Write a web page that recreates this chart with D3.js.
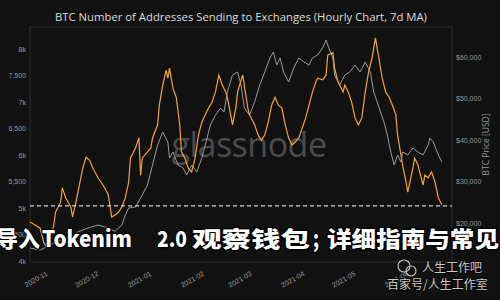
<!DOCTYPE html>
<html>
<head>
<meta charset="utf-8">
<script src="https://cdn.jsdelivr.net/npm/d3@7"></script>
<style>
  body { margin: 0; background: #111; }
  svg { display: block; font-family: 'Open Sans', sans-serif; }
  .tick text { fill: #9a9a9a; font-size: 7px; }
  .domain { display: none; }
</style>
</head>
<body>
<div id="chart"></div>
<script>
// addresses sending to exchanges, 7d MA (left axis)
var addr_dates = [
    '2020-10-24','2020-10-27','2020-10-30','2020-11-01','2020-11-02','2020-11-05','2020-11-07','2020-11-08','2020-11-11','2020-11-12',
    '2020-11-14','2020-11-17','2020-11-18','2020-11-20','2020-11-22','2020-11-24','2020-11-26','2020-11-28','2020-11-30','2020-12-03',
    '2020-12-06','2020-12-09','2020-12-11','2020-12-13','2020-12-15','2020-12-17','2020-12-19','2020-12-21','2020-12-22','2020-12-25',
    '2020-12-27','2020-12-28','2020-12-29','2021-01-01','2021-01-03','2021-01-04','2021-01-07','2021-01-08','2021-01-10','2021-01-12',
    '2021-01-13','2021-01-14','2021-01-16','2021-01-18','2021-01-20','2021-01-21','2021-01-23','2021-01-25','2021-01-27','2021-01-29',
    '2021-01-31','2021-02-02','2021-02-04','2021-02-06','2021-02-08','2021-02-10','2021-02-12','2021-02-14','2021-02-16','2021-02-17',
    '2021-02-20','2021-02-22','2021-02-23','2021-02-26','2021-03-01','2021-03-02','2021-03-05','2021-03-07','2021-03-09','2021-03-11',
    '2021-03-13','2021-03-15','2021-03-17','2021-03-19','2021-03-21','2021-03-23','2021-03-25','2021-03-27','2021-03-29','2021-03-31',
    '2021-04-02','2021-04-04','2021-04-06','2021-04-08','2021-04-10','2021-04-11','2021-04-14','2021-04-16','2021-04-17','2021-04-20',
    '2021-04-21','2021-04-23','2021-04-26','2021-04-27','2021-04-29','2021-05-01','2021-05-03','2021-05-05','2021-05-07','2021-05-09',
    '2021-05-11','2021-05-13','2021-05-15','2021-05-17','2021-05-19','2021-05-21','2021-05-23','2021-05-25','2021-05-27','2021-05-28',
    '2021-05-31','2021-06-02','2021-06-03','2021-06-06','2021-06-07','2021-06-09','2021-06-12','2021-06-13','2021-06-15','2021-06-17',
    '2021-06-19','2021-06-21','2021-06-23'
];
var addr_values = [
    4735,4680,4620,4360,4300,4430,4680,4920,5110,5380,
    5190,5020,4830,5110,5430,5750,5960,5900,5750,5570,
    5430,5250,4830,4870,4920,5020,5190,5490,5940,6130,
    6320,5620,5940,6060,6130,6320,6570,6940,7320,7600,
    7450,7640,7260,7080,6570,6060,5940,5750,5680,5940,
    6380,6620,6760,6890,7000,7190,7510,7320,7190,7080,
    6570,6890,7190,7510,6890,6760,6570,6380,6280,6380,
    6620,6940,7090,6940,6890,6570,6320,6190,6250,6320,
    6510,6700,6940,7190,7380,7450,7420,7510,7890,7930,
    7640,7380,7190,7320,7190,7000,6700,6570,6700,7190,
    7570,7830,8210,7830,7450,7190,7090,6940,6760,6380,
    5810,5490,5300,5750,5940,5810,5430,5620,5570,5680,
    5490,5190,5060
];

// BTC price in USD (right axis)
var price_dates = [
    '2020-10-24','2020-10-30','2020-11-04','2020-11-08','2020-11-17','2020-11-21','2020-11-27','2020-12-03','2020-12-09','2020-12-13',
    '2020-12-17','2020-12-19','2020-12-21','2020-12-25','2020-12-29','2021-01-01','2021-01-04','2021-01-07','2021-01-10','2021-01-13',
    '2021-01-14','2021-01-16','2021-01-19','2021-01-22','2021-01-24','2021-01-27','2021-01-30','2021-02-02','2021-02-04','2021-02-07',
    '2021-02-10','2021-02-13','2021-02-15','2021-02-17','2021-02-20','2021-02-23','2021-02-25','2021-02-27','2021-03-02','2021-03-05',
    '2021-03-08','2021-03-11','2021-03-14','2021-03-16','2021-03-18','2021-03-20','2021-03-22','2021-03-25','2021-03-28','2021-03-31',
    '2021-04-03','2021-04-06','2021-04-08','2021-04-11','2021-04-14','2021-04-16','2021-04-17','2021-04-20','2021-04-21','2021-04-24',
    '2021-04-27','2021-04-30','2021-05-03','2021-05-06','2021-05-09','2021-05-12','2021-05-14','2021-05-16','2021-05-18','2021-05-20',
    '2021-05-22','2021-05-24','2021-05-26','2021-05-28','2021-05-30','2021-05-31','2021-06-03','2021-06-06','2021-06-09','2021-06-12',
    '2021-06-15','2021-06-16','2021-06-18','2021-06-21','2021-06-23'
];
var price_values = [
    13970,13490,14450,15420,16380,17830,18790,19510,18790,18000,
    19510,21920,23610,23850,26740,29150,33970,38790,41930,39520,
    35660,37110,33970,33250,31560,33970,32290,35660,38790,43610,
    46020,47710,46750,51570,55660,56390,53250,47710,46020,49160,
    53250,56390,59760,61210,58070,59760,56390,53980,57350,59760,
    58800,58070,59760,60480,62170,64100,62890,59760,55660,53250,
    55660,56390,58070,56390,58800,56390,51570,49160,46750,44340,
    41200,37110,33970,36380,34700,37110,36380,38070,37110,36380,
    38790,40480,39520,36380,34700
];

var left_ticks = [4000, 4500, 5000, 5500, 6000, 6500, 7000, 7500, 8000];
var right_ticks = [20000, 30000, 40000, 50000, 60000];
var month_ticks = ['2020-11-01','2020-12-01','2021-01-01','2021-02-01','2021-03-01',
                   '2021-04-01','2021-05-01','2021-06-01'];
var date_range = ['2020-10-24', '2021-06-29'];
var addr_range = [3981, 8415];
var price_range = [10600, 67230];
var dashed_level = [5040];

var WIDTH = 500, HEIGHT = 300;
var MARGIN = {top: 27, right: 48, bottom: 38, left: 30};
var DRAW_WIDTH = WIDTH - MARGIN.left - MARGIN.right;
var DRAW_HEIGHT = HEIGHT - MARGIN.top - MARGIN.bottom;

var parse = d3.timeParse('%Y-%m-%d');

var svg = d3.select('#chart').append('svg')
    .attr('width', WIDTH)
    .attr('height', HEIGHT);
svg.append('rect').attr('width', WIDTH).attr('height', HEIGHT).attr('fill', '#111');

var scale_x = d3.scaleTime()
    .domain(date_range.map(parse))
    .range([0, DRAW_WIDTH]);
var scale_y = d3.scaleLinear().domain(addr_range).range([DRAW_HEIGHT, 0]);
var scale_p = d3.scaleLinear().domain(price_range).range([DRAW_HEIGHT, 0]);

svg.append('text')
    .attr('x', 241)
    .attr('y', 21)
    .attr('text-anchor', 'middle')
    .attr('fill', '#dcdcdc')
    .style('font-size', '11.3px')
    .text('BTC Number of Addresses Sending to Exchanges (Hourly Chart, 7d MA)');

var draw_area = svg.append('g')
    .attr('transform', 'translate(' + MARGIN.left + ',' + MARGIN.top + ')');

// frame
draw_area.append('rect')
    .attr('width', DRAW_WIDTH)
    .attr('height', DRAW_HEIGHT)
    .attr('fill', 'none')
    .attr('stroke', '#2e2e2e')
    .attr('stroke-width', 1);

// watermark
draw_area.append('text')
    .attr('x', 219)
    .attr('y', 130)
    .attr('text-anchor', 'middle')
    .attr('fill', '#565656')
    .attr('opacity', 0.85)
    .style('font-size', '34px')
    .style('letter-spacing', '-0.5px')
    .text('glassnode');

var format_left = function(v) {
    return v % 1000 === 0 ? (v / 1000) + 'k' : d3.format(',')(v);
};

draw_area.append('g')
    .call(d3.axisLeft(scale_y).tickValues(left_ticks).tickFormat(format_left).tickSize(0).tickPadding(4));
draw_area.append('g')
    .attr('transform', 'translate(' + DRAW_WIDTH + ',0)')
    .call(d3.axisRight(scale_p).tickValues(right_ticks).tickFormat(d3.format('$,')).tickSize(0).tickPadding(4));
var x_axis = draw_area.append('g')
    .attr('transform', 'translate(0,' + DRAW_HEIGHT + ')')
    .call(d3.axisBottom(scale_x).tickValues(month_ticks.map(parse))
          .tickFormat(d3.timeFormat('%Y-%m')).tickSize(0));
x_axis.selectAll('text')
    .attr('y', 0)
    .attr('dy', 0)
    .attr('text-anchor', 'end')
    .attr('transform', 'translate(4,13) rotate(-30)');

svg.append('text')
    .attr('transform', 'translate(489,' + (MARGIN.top + DRAW_HEIGHT / 2) + ') rotate(-90)')
    .attr('text-anchor', 'middle')
    .attr('fill', '#9a9a9a')
    .style('font-size', '8.5px')
    .text('BTC Price [USD]');

var price_line = d3.line()
    .x(function(d, i) { return scale_x(parse(price_dates[i])); })
    .y(function(d) { return scale_p(d); });
var addr_line = d3.line()
    .x(function(d, i) { return scale_x(parse(addr_dates[i])); })
    .y(function(d) { return scale_y(d); });

draw_area.append('path')
    .datum(price_values)
    .attr('d', price_line)
    .attr('fill', 'none')
    .attr('stroke', '#9a9a9a')
    .attr('stroke-width', 1);
draw_area.append('path')
    .datum(addr_values)
    .attr('d', addr_line)
    .attr('fill', 'none')
    .attr('stroke', '#f4a23a')
    .attr('stroke-width', 1.2);

draw_area.selectAll('.level')
    .data(dashed_level)
    .enter()
  .append('line')
    .attr('x1', 0)
    .attr('x2', DRAW_WIDTH)
    .attr('y1', function(d) { return scale_y(d); })
    .attr('y2', function(d) { return scale_y(d); })
    .attr('stroke', '#cfcfcf')
    .attr('stroke-width', 1.2)
    .attr('stroke-dasharray', '4,3');

// overlaid caption
var caption = [
    {t: '导入', x: -4, w: 44},
    {t: 'Tokenim', x: 42, w: 90},
    {t: '2.0', x: 157, w: 30},
    {t: '观察钱包', x: 192, w: 118},
    {t: ';', x: 313, w: 6},
    {t: '详细指南与常见', x: 327, w: 172}
];
svg.selectAll('.caption')
    .data(caption)
    .enter()
  .append('text')
    .attr('x', function(d) { return d.x; })
    .attr('y', 247)
    .attr('textLength', function(d) { return d.w; })
    .attr('lengthAdjust', 'spacingAndGlyphs')
    .attr('fill', '#fff')
    .attr('stroke', '#000')
    .attr('stroke-width', 2.5)
    .attr('paint-order', 'stroke')
    .style('font-family', "'Noto Sans CJK SC', 'DejaVu Sans Mono', sans-serif")
    .style('font-weight', 900)
    .style('font-size', '22px')
    .text(function(d) { return d.t; });

// source mark, bottom right
var mark = svg.append('g').attr('opacity', 0.85);
mark.append('circle').attr('cx', 404).attr('cy', 266).attr('r', 6)
    .attr('fill', 'none').attr('stroke', '#ddd').attr('stroke-width', 1.2);
mark.append('circle').attr('cx', 411).attr('cy', 271).attr('r', 5)
    .attr('fill', 'none').attr('stroke', '#ddd').attr('stroke-width', 1.2);
mark.append('text').attr('x', 422).attr('y', 272)
    .attr('fill', '#e8e8e8').attr('stroke', '#000').attr('stroke-width', 1.5).attr('paint-order', 'stroke')
    .style('font-family', "'Noto Sans CJK SC', sans-serif").style('font-size', '12px')
    .text('人生工作吧');
mark.append('text').attr('x', 387).attr('y', 289)
    .attr('fill', '#e8e8e8').attr('stroke', '#000').attr('stroke-width', 1.5).attr('paint-order', 'stroke')
    .style('font-family', "'Noto Sans CJK SC', sans-serif").style('font-size', '12px')
    .text('百家号/人生工作室');
</script>
</body>
</html>
